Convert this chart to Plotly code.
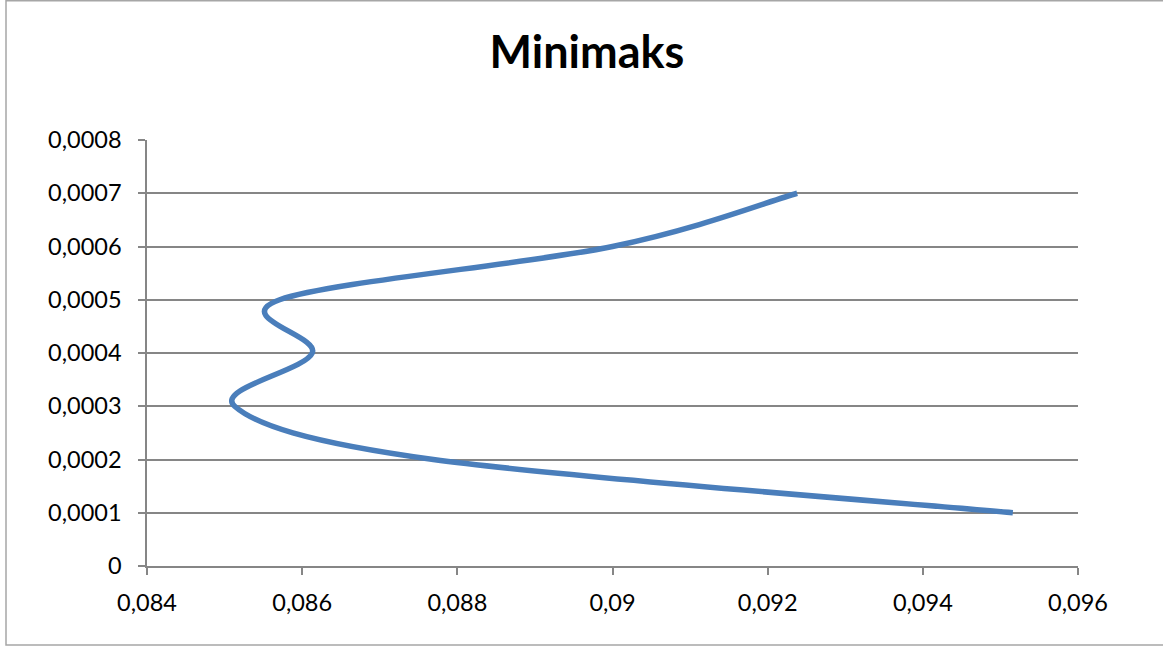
import plotly.graph_objects as go

# Minimaks curve: sampled points (x, y)
x_vals = [0.09516, 0.08769, 0.08513, 0.08613, 0.08571, 0.09000, 0.09238]
y_vals = [0.0001, 0.0002, 0.0003, 0.0004, 0.0005, 0.0006, 0.0007]

x_ticks = [0.084, 0.086, 0.088, 0.090, 0.092, 0.094, 0.096]
x_tick_text = ["0,084", "0,086", "0,088", "0,09", "0,092", "0,094", "0,096"]
y_ticks = [0, 0.0001, 0.0002, 0.0003, 0.0004, 0.0005, 0.0006, 0.0007, 0.0008]
y_tick_text = ["0", "0,0001", "0,0002", "0,0003", "0,0004", "0,0005", "0,0006", "0,0007", "0,0008"]

title_text = "Minimaks"

FONT = "Lato, 'Open Sans', sans-serif"
GRID = "#868686"
LINE = "#4A7EBB"
W, H = 1163, 647
ML, MR, MT, MB = 147, 85, 140, 81
PW, PH = W - ML - MR, H - MT - MB


def smooth_path(xs, ys):
    """Catmull-Rom style Bezier path through the points (spreadsheet 'smoothed line')."""
    n = len(xs)
    pts = list(zip(xs, ys))
    fmt = lambda v: f"{v:.9f}"
    d = f"M {fmt(pts[0][0])},{fmt(pts[0][1])}"
    for i in range(n - 1):
        p0 = pts[i - 1] if i > 0 else pts[i]
        p1 = pts[i]
        p2 = pts[i + 1]
        p3 = pts[i + 2] if i + 2 < n else pts[i + 1]
        c1 = (p1[0] + (p2[0] - p0[0]) / 6, p1[1] + (p2[1] - p0[1]) / 6)
        c2 = (p2[0] - (p3[0] - p1[0]) / 6, p2[1] - (p3[1] - p1[1]) / 6)
        d += (f" C {fmt(c1[0])},{fmt(c1[1])} {fmt(c2[0])},{fmt(c2[1])}"
              f" {fmt(p2[0])},{fmt(p2[1])}")
    return d


fig = go.Figure()
# invisible markers carry the hover values of the series
fig.add_trace(go.Scatter(
    x=x_vals, y=y_vals, mode="markers",
    marker=dict(size=10, color=LINE, opacity=0),
    hoverinfo="x+y", showlegend=False,
))

fig.add_shape(type="path", xref="x", yref="y", path=smooth_path(x_vals, y_vals),
              line=dict(color=LINE, width=5.5), fillcolor="rgba(0,0,0,0)", layer="above")

fig.update_layout(
    width=W, height=H,
    margin=dict(l=ML, r=MR, t=MT, b=MB),
    paper_bgcolor="white", plot_bgcolor="white",
    font=dict(family=FONT, size=23.5, color="#000000"),
    title=dict(text="<b>" + title_text + "</b>", xref="container", x=587 / W, xanchor="center",
               y=1 - 52 / H, yanchor="middle",
               font=dict(family=FONT, size=45, color="#000000")),
    xaxis=dict(
        range=[0.084, 0.096], tickvals=x_ticks, ticktext=x_tick_text,
        showgrid=False, zeroline=False, showline=True, linecolor=GRID, linewidth=1.5,
        ticks="outside", ticklen=7, tickcolor=GRID, tickwidth=1.5,
        ticklabelstandoff=8, tickfont=dict(size=23.5),
    ),
    yaxis=dict(
        range=[0, 0.0008], tickvals=y_ticks, ticktext=y_tick_text,
        showgrid=True, gridcolor=GRID, gridwidth=1.5, zeroline=False,
        showline=True, linecolor=GRID, linewidth=1.5,
        ticks="outside", ticklen=7, tickcolor=GRID, tickwidth=1.5,
        ticklabelstandoff=12, tickfont=dict(size=23.5),
    ),
)

# chart-area frame (left, top and bottom edges visible in the window)
fig.add_shape(type="rect", xref="paper", yref="paper",
              x0=(6 - ML) / PW, x1=(W + 5 - ML) / PW,
              y0=(H - MB - 645) / PH, y1=(H - MB - 0.75) / PH,
              line=dict(color="#A6A6A6", width=1.5), fillcolor="rgba(0,0,0,0)", layer="below")

fig.write_html("out.html")
